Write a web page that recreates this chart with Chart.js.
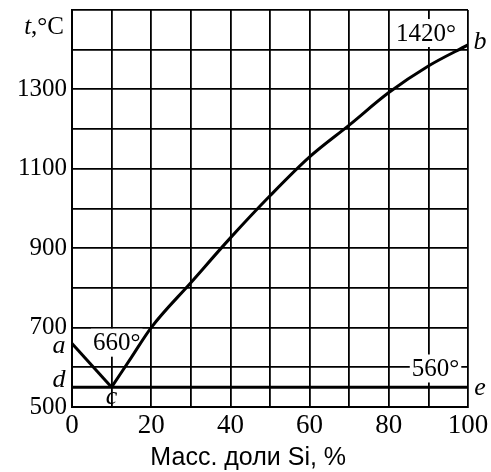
<!DOCTYPE html>
<html>
<head>
<meta charset="utf-8">
<script src="https://cdn.jsdelivr.net/npm/chart.js@4"></script>
<style>
  html,body{margin:0;padding:0;background:#fff;}
  #wrap{width:491px;height:472px;}
</style>
</head>
<body>
<div id="wrap"><canvas id="alsi"></canvas></div>
<script>
// liquidus a-c (Al side)
const acX = [0, 10];
const acT = [660, 550];
// liquidus c-b (Si side)
const cbX = [10, 15, 20, 30, 40, 50, 60, 70, 80, 90, 100];
const cbT = [550, 625, 700, 813, 926, 1032, 1130, 1210, 1292, 1359, 1412];
// eutectic line d-e
const deX = [0, 100];
const deT = [550, 550];

const xTickLabels = [0, 20, 40, 60, 80, 100];
const yTickLabels = [500, 700, 900, 1100, 1300];
const xTitle = 'Масс. доли Si, %';

const serif = "'Liberation Serif', 'DejaVu Serif', serif";
const sans = "'Liberation Sans', Arial, sans-serif";

const toPts = (xs, ys) => xs.map((x, i) => ({x: x, y: ys[i]}));

const lineSet = (xs, ys, smooth) => ({
  data: toPts(xs, ys),
  showLine: true,
  borderColor: '#000',
  borderWidth: 3,
  pointRadius: 0,
  cubicInterpolationMode: smooth ? 'monotone' : 'default',
  tension: 0
});

// white boxes behind temperature marks, under the curves
const boxPlugin = {
  id: 'boxes',
  beforeDatasetsDraw(chart) {
    const ctx = chart.ctx;
    const xs = chart.scales.x, ys = chart.scales.y;
    const px = v => xs.getPixelForValue(v);
    const py = v => ys.getPixelForValue(v);
    ctx.save();
    ctx.textBaseline = 'middle';
    ctx.textAlign = 'center';
    ctx.font = '25px ' + serif;
    const boxed = (txt, x, y) => {
      const w = ctx.measureText(txt).width;
      ctx.fillStyle = '#fff';
      ctx.fillRect(x - w / 2 - 2, y - 14, w + 4, 28);
      ctx.fillStyle = '#000';
      ctx.fillText(txt, x, y + 1);
    };
    boxed('660°', px(11.3), py(662));
    boxed('1420°', px(89.4), py(1442));
    boxed('560°', px(91.8), py(597));
    ctx.restore();
  }
};

// point letters, axis unit and axis title
const textPlugin = {
  id: 'texts',
  afterDraw(chart) {
    const ctx = chart.ctx;
    const xs = chart.scales.x, ys = chart.scales.y;
    const px = v => xs.getPixelForValue(v);
    const py = v => ys.getPixelForValue(v);
    ctx.save();
    ctx.fillStyle = '#000';
    ctx.textBaseline = 'middle';
    ctx.font = 'italic 26px ' + serif;
    ctx.textAlign = 'center';
    ctx.fillText('a', px(0) - 13, py(653));
    ctx.fillText('d', px(0) - 13, py(568));
    ctx.fillText('c', px(10), py(524));
    ctx.fillText('b', px(100) + 12, py(1418));
    ctx.fillText('e', px(100) + 12, py(547));

    ctx.textAlign = 'right';
    ctx.font = '25px ' + serif;
    const uw = ctx.measureText(',°C').width;
    ctx.fillText(',°C', xs.left - 8, py(1455));
    ctx.font = 'italic 25px ' + serif;
    ctx.fillText('t', xs.left - 8 - uw, py(1455));

    ctx.textAlign = 'center';
    ctx.font = '25px ' + sans;
    ctx.fillText(xTitle, px(44.5), chart.height - 14);
    ctx.restore();
  }
};

new Chart(document.getElementById('alsi'), {
  type: 'scatter',
  data: {
    datasets: [lineSet(acX, acT), lineSet(cbX, cbT, true), lineSet(deX, deT)]
  },
  options: {
    responsive: true,
    maintainAspectRatio: false,
    animation: false,
    layout: {padding: {top: 10, right: 23, left: 0, bottom: 0}},
    plugins: {legend: {display: false}, tooltip: {enabled: false}},
    scales: {
      x: {
        type: 'linear',
        min: 0, max: 100,
        ticks: {
          stepSize: 10,
          padding: 3,
          autoSkip: false,
          maxRotation: 0,
          minRotation: 0,
          color: '#000',
          font: {family: serif, size: 27},
          callback: v => xTickLabels.includes(v) ? String(v) : ''
        },
        grid: {color: '#000', lineWidth: 1.8, drawTicks: false},
        border: {color: '#000', width: 2},
        afterFit: s => { s.height = 65; s.paddingLeft = 0; s.paddingRight = 0; }
      },
      y: {
        type: 'linear',
        min: 500, max: 1500,
        ticks: {
          stepSize: 100,
          padding: 5,
          autoSkip: false,
          color: '#000',
          font: {family: serif, size: 25},
          callback: v => yTickLabels.includes(v) ? String(v) : ''
        },
        grid: {color: '#000', lineWidth: 1.8, drawTicks: false},
        border: {color: '#000', width: 2},
        afterFit: s => { s.width = 72; s.paddingTop = 0; s.paddingBottom = 0; }
      }
    }
  },
  plugins: [boxPlugin, textPlugin]
});
</script>
</body>
</html>
